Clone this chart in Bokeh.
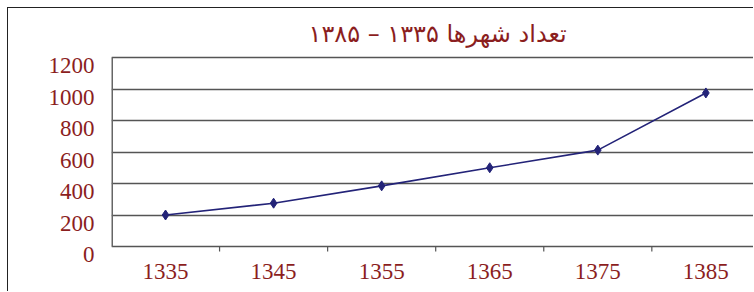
from bokeh.plotting import figure
from bokeh.models import Range1d, FixedTicker, LinearAxis
from bokeh.embed import file_html
from bokeh.resources import INLINE

years = ["1335", "1345", "1355", "1365", "1375", "1385"]
cities = [200, 275, 385, 500, 612, 975]
y_ticks = [0, 200, 400, 600, 800, 1000, 1200]
title_text = "تعداد شهرها ۱۳۳۵ – ۱۳۸۵"

RED = "#8B1E1E"
NAVY = "#232378"
GRID = "#555555"

# layout constants (pixels)
PX = 189 / 1200.0          # pixels per data unit on y
PAD_TOP = 3                # frame space above top gridline
PAD_BOT = 10               # frame space below zero line
LABEL_DROP = 8             # y labels sit a little below their gridlines
TICK_LEN = 5

xs = [i + 0.5 for i in range(len(years))]
bounds = [i + 1.0 for i in range(len(years) - 1)]

y_lo = y_ticks[0] - PAD_BOT / PX
y_hi = y_ticks[-1] + PAD_TOP / PX
shift = LABEL_DROP / PX

p = figure(width=746, height=284, output_backend="svg", toolbar_location=None,
           x_range=Range1d(0, 5.95), y_range=Range1d(y_lo, y_hi),
           y_axis_location=None,
           min_border_left=103, min_border_right=0, min_border_top=46,
           min_border_bottom=36, title=title_text,
           styles={"margin-left": "7px", "margin-top": "7px",
                   "border-left": "1px solid #222", "border-top": "1px solid #222"})

p.title.align = "left"
p.title.offset = 197
p.title.text_color = RED
p.title.text_font = "DejaVu Sans"
p.title.text_font_style = "normal"
p.title.text_font_size = "24px"
p.title.standoff = 14

p.outline_line_color = None
p.background_fill_color = "white"
p.border_fill_color = "white"

# x axis: labels only; axis line = zero gridline, ticks as short segments
p.xaxis.ticker = FixedTicker(ticks=xs)
p.xaxis.major_label_overrides = {x: y for x, y in zip(xs, years)}
p.xaxis.major_tick_line_color = None
p.xaxis.minor_tick_line_color = None
p.xaxis.axis_line_color = None
p.xaxis.major_label_text_color = RED
p.xaxis.major_label_text_font = "Liberation Serif"
p.xaxis.major_label_text_font_size = "23px"
p.xaxis.major_label_standoff = 1
p.xgrid.grid_line_color = None

# y labels on a shifted range so they sit slightly under their gridlines
p.extra_y_ranges = {"lab": Range1d(y_lo + shift, y_hi + shift)}
lab_axis = LinearAxis(y_range_name="lab", ticker=FixedTicker(ticks=y_ticks))
lab_axis.axis_line_color = None
lab_axis.major_tick_line_color = None
lab_axis.minor_tick_line_color = None
lab_axis.major_tick_out = 0
lab_axis.major_label_standoff = 17
lab_axis.major_label_text_color = RED
lab_axis.major_label_text_font = "Liberation Serif"
lab_axis.major_label_text_font_size = "23px"
p.add_layout(lab_axis, "left")

p.ygrid.ticker = FixedTicker(ticks=y_ticks)
p.ygrid.grid_line_color = GRID
p.ygrid.grid_line_width = 1.5

# left axis line (from 0 to top tick) and x tick marks
p.segment(x0=[0], y0=[y_ticks[0]], x1=[0], y1=[y_ticks[-1]],
          line_color="#666666", line_width=3)
p.segment(x0=bounds, y0=[y_ticks[0]] * len(bounds), x1=bounds,
          y1=[y_ticks[0] - TICK_LEN / PX] * len(bounds),
          line_color=GRID, line_width=1.2)

p.line(xs, cities, line_color=NAVY, line_width=1.6)
p.scatter(xs, cities, marker="diamond", size=10, fill_color=NAVY, line_color=NAVY)

open("out.html", "w").write(file_html(p, INLINE))
